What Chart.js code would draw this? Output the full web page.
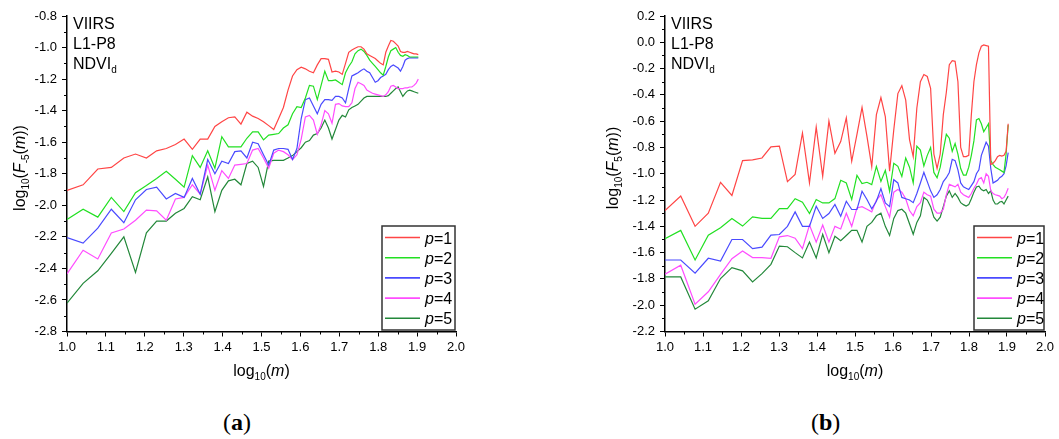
<!DOCTYPE html>
<html>
<head>
<meta charset="utf-8">
<script src="https://cdn.jsdelivr.net/npm/chart.js@4.4.1/dist/chart.umd.min.js"></script>
<style>
  body { margin: 0; background: #fff; width: 1059px; height: 439px; overflow: hidden; position: relative; }
  canvas { position: absolute; top: 0; }
  #chart-a { left: 0; }
  #chart-b { left: 530px; }
  .caption { position: absolute; top: 408px; font-family: "Liberation Serif", "Times New Roman", serif; font-size: 24px; line-height: 28px; color: #000; }
</style>
</head>
<body>
<canvas id="chart-a" width="530" height="395"></canvas>
<canvas id="chart-b" width="529" height="395"></canvas>
<div class="caption" style="left:223px">(<b>a</b>)</div>
<div class="caption" style="left:811px">(<b>b</b>)</div>
<script>
// window sizes m; the x axis is log10(m)
const windowSizes = [
  10, 11, 12, 13, 14, 15, 16, 17, 18, 19, 20, 21, 22, 23, 24, 25, 26, 27, 28, 29,
  30, 31, 32, 33, 34, 35, 36, 37, 38, 39, 40, 41, 42, 43, 44, 45, 46, 47, 48, 49,
  50, 51, 52, 53, 54, 55, 56, 57, 58, 59, 60, 61, 62, 63, 64, 65, 66, 67, 68, 69,
  70, 71, 72, 73, 74, 75, 76, 77, 78, 79, 80
];

const seriesLabels = ["1", "2", "3", "4", "5"];
const seriesColors = ["#ff4545", "#22e022", "#4a4aff", "#ff4cff", "#23883a"];

const xRange = [1.0, 2.0];
const yRangeA = [-2.8, -0.8];
const yRangeB = [-2.2, 0.2];

// log10(F_-5(m)), q = -5
const fMinus5P1 = [
  -1.905, -1.87, -1.77, -1.76, -1.70, -1.675, -1.70, -1.655, -1.64, -1.615, -1.58,
  -1.645, -1.58, -1.58, -1.50, -1.47, -1.445, -1.44, -1.485, -1.41, -1.435,
  -1.45, -1.47, -1.495, -1.52, -1.45, -1.38, -1.27, -1.18, -1.14, -1.125,
  -1.135, -1.15, -1.16, -1.11, -1.07, -1.07, -1.075, -1.155, -1.15, -1.155,
  -1.17, -1.10, -1.03, -1.015, -1.005, -0.995, -0.995, -1.01, -1.04, -1.05,
  -1.06, -1.07, -1.085, -1.10, -1.11, -1.03, -0.99, -0.955, -0.96, -0.975,
  -0.99, -1.025, -1.03, -1.03, -1.025, -1.03, -1.035, -1.04, -1.04, -1.045
];
const fMinus5P2 = [
  -2.09, -2.025, -2.075, -1.95, -2.04, -1.92, -1.875, -1.83, -1.785, -1.835, -1.885,
  -1.685, -1.76, -1.655, -1.765, -1.565, -1.63, -1.63, -1.63, -1.575, -1.535,
  -1.535, -1.585, -1.555, -1.55, -1.545, -1.51, -1.49, -1.42, -1.375, -1.38,
  -1.32, -1.24, -1.245, -1.33, -1.24, -1.15, -1.21, -1.21, -1.205, -1.22,
  -1.235, -1.16, -1.12, -1.09, -1.04, -1.02, -1.01, -1.025, -1.05, -1.08,
  -1.10, -1.12, -1.14, -1.16, -1.175, -1.12, -1.06, -1.02, -1.01, -1.00,
  -1.03, -1.05, -1.055, -1.045, -1.05, -1.06, -1.06, -1.06, -1.06, -1.06
];
const fMinus5P3 = [
  -2.205, -2.24, -2.145, -2.025, -2.11, -1.965, -1.90, -1.885, -1.96, -1.925, -1.95,
  -1.83, -1.93, -1.71, -1.80, -1.72, -1.735, -1.66, -1.655, -1.70, -1.60,
  -1.61, -1.68, -1.745, -1.65, -1.64, -1.64, -1.645, -1.71, -1.64, -1.45,
  -1.33, -1.32, -1.37, -1.42, -1.36, -1.33, -1.33, -1.335, -1.31, -1.31,
  -1.32, -1.35, -1.26, -1.18, -1.17, -1.16, -1.145, -1.135, -1.15, -1.16,
  -1.19, -1.22, -1.21, -1.19, -1.18, -1.17, -1.14, -1.12, -1.11, -1.12,
  -1.13, -1.15, -1.12, -1.08, -1.07, -1.065, -1.065, -1.065, -1.065, -1.065
];
const fMinus5P4 = [
  -2.435, -2.285, -2.34, -2.175, -2.15, -2.095, -2.03, -2.035, -2.095, -1.96, -1.95,
  -1.87, -1.93, -1.745, -1.905, -1.78, -1.83, -1.745, -1.74, -1.735, -1.65,
  -1.64, -1.70, -1.765, -1.67, -1.65, -1.66, -1.68, -1.71, -1.68, -1.58,
  -1.44, -1.43, -1.46, -1.55, -1.49, -1.40, -1.42, -1.48, -1.36, -1.355,
  -1.37, -1.375, -1.375, -1.35, -1.26, -1.22, -1.23, -1.24, -1.27, -1.28,
  -1.29, -1.295, -1.30, -1.305, -1.31, -1.30, -1.28, -1.245, -1.24, -1.25,
  -1.26, -1.26, -1.26, -1.255, -1.255, -1.25, -1.25, -1.24, -1.225, -1.20
];
const fMinus5P5 = [
  -2.62, -2.495, -2.415, -2.305, -2.20, -2.425, -2.175, -2.10, -2.10, -2.05, -2.02,
  -1.945, -1.965, -1.82, -2.04, -1.905, -1.845, -1.835, -1.87, -1.735, -1.72,
  -1.76, -1.88, -1.72, -1.715, -1.715, -1.715, -1.70, -1.685, -1.66, -1.635,
  -1.60, -1.59, -1.555, -1.545, -1.51, -1.46, -1.51, -1.58, -1.52, -1.46,
  -1.43, -1.44, -1.395, -1.38, -1.37, -1.36, -1.34, -1.32, -1.31, -1.31,
  -1.31, -1.31, -1.31, -1.31, -1.31, -1.31, -1.305, -1.29, -1.275, -1.26,
  -1.25, -1.28, -1.31, -1.29, -1.275, -1.27, -1.275, -1.28, -1.285, -1.29
];

// log10(F_5(m)), q = 5
const f5P1 = [
  -1.28, -1.17, -1.40, -1.30, -1.065, -1.165, -0.90, -0.895, -0.88, -0.795, -0.79,
  -1.06, -1.005, -0.69, -1.07, -0.645, -1.02, -0.60, -0.845, -0.755, -0.575,
  -0.905, -0.70, -0.495, -0.715, -0.945, -0.55, -0.42, -0.565, -0.98, -0.665,
  -0.39, -0.33, -0.44, -0.74, -0.87, -0.50, -0.30, -0.245, -0.26, -0.35,
  -0.85, -0.96, -0.85, -0.55, -0.38, -0.17, -0.14, -0.145, -0.30, -0.80,
  -0.87, -0.87, -0.86, -0.55, -0.30, -0.17, -0.08, -0.03, -0.02, -0.025,
  -0.03, -0.93, -0.92, -0.90, -0.87, -0.86, -0.865, -0.86, -0.83, -0.62
];
const f5P2 = [
  -1.494, -1.431, -1.656, -1.467, -1.411, -1.34, -1.398, -1.328, -1.34, -1.34, -1.265,
  -1.265, -1.19, -1.217, -1.303, -1.196, -1.222, -1.222, -1.189, -1.05, -1.07,
  -1.196, -1.012, -1.075, -1.065, -1.083, -0.944, -1.058, -0.974, -1.133, -0.92,
  -0.944, -1.02, -0.88, -0.95, -1.07, -0.79, -0.82, -0.94, -0.86, -0.80,
  -0.99, -1.03, -0.95, -0.82, -0.70, -0.73, -0.83, -0.77, -0.85, -0.96,
  -1.01, -1.01, -0.95, -0.86, -0.75, -0.59, -0.58, -0.62, -0.68, -0.65,
  -0.62, -0.90, -0.93, -0.95, -0.96, -0.97, -0.98, -0.99, -0.85, -0.63
];
const f5P3 = [
  -1.656, -1.656, -1.757, -1.643, -1.664, -1.50, -1.50, -1.57, -1.558, -1.467, -1.462,
  -1.40, -1.29, -1.40, -1.40, -1.247, -1.34, -1.303, -1.234, -1.323, -1.209,
  -1.272, -1.272, -1.133, -1.196, -1.267, -1.209, -1.113, -1.222, -1.25, -1.045,
  -1.07, -1.18, -1.19, -1.20, -1.22, -1.15, -1.07, -0.99, -1.06, -1.13,
  -1.18, -1.16, -1.12, -1.06, -1.03, -0.99, -0.89, -0.90, -0.97, -1.07,
  -1.10, -1.11, -1.12, -1.09, -1.06, -1.00, -0.97, -0.86, -0.81, -0.76,
  -0.79, -0.96, -1.07, -1.06, -1.05, -1.03, -1.02, -1.00, -0.94, -0.84
];
const f5P4 = [
  -1.765, -1.696, -1.992, -1.898, -1.765, -1.646, -1.588, -1.638, -1.638, -1.643, -1.48,
  -1.47, -1.49, -1.57, -1.39, -1.52, -1.39, -1.52, -1.40, -1.42, -1.30,
  -1.40, -1.26, -1.25, -1.27, -1.29, -1.20, -1.16, -1.25, -1.33, -1.14,
  -1.12, -1.14, -1.19, -1.28, -1.32, -1.25, -1.22, -1.14, -1.16, -1.17,
  -1.27, -1.30, -1.30, -1.27, -1.16, -1.08, -1.09, -1.10, -1.08, -1.14,
  -1.16, -1.17, -1.18, -1.15, -1.11, -1.08, -1.04, -1.03, -1.07, -1.00,
  -1.02, -1.13, -1.15, -1.16, -1.165, -1.17, -1.19, -1.18, -1.15, -1.11
];
const f5P5 = [
  -1.785, -1.785, -2.03, -1.967, -1.797, -1.714, -1.739, -1.823, -1.76, -1.689, -1.55,
  -1.555, -1.60, -1.64, -1.52, -1.64, -1.46, -1.60, -1.475, -1.51, -1.47,
  -1.43, -1.43, -1.52, -1.40, -1.37, -1.32, -1.30, -1.40, -1.47, -1.34,
  -1.28, -1.27, -1.30, -1.38, -1.46, -1.37, -1.32, -1.18, -1.20, -1.25,
  -1.33, -1.36, -1.33, -1.25, -1.17, -1.13, -1.18, -1.15, -1.18, -1.22,
  -1.235, -1.245, -1.235, -1.19, -1.14, -1.10, -1.095, -1.12, -1.13, -1.12,
  -1.15, -1.13, -1.20, -1.23, -1.23, -1.215, -1.21, -1.23, -1.20, -1.17
];

const FONT = '"Liberation Sans", Arial, sans-serif';

// draws a run of text pieces: [text, style] with style "", "i" (italic) or "sub"
function drawRichText(ctx, parts, x, y, align) {
  const fontFor = (s) => s === "sub" ? `10px ${FONT}` : s === "i" ? `italic 16px ${FONT}` : `16px ${FONT}`;
  let width = 0;
  parts.forEach(([t, s]) => { ctx.font = fontFor(s); width += ctx.measureText(t).width; });
  let cx = align === "center" ? x - width / 2 : x;
  ctx.textAlign = "left";
  ctx.textBaseline = "alphabetic";
  ctx.fillStyle = "#000";
  parts.forEach(([t, s]) => {
    ctx.font = fontFor(s);
    ctx.fillText(t, cx, s === "sub" ? y + 4 : y);
    cx += ctx.measureText(t).width;
  });
}

const minorTicks = {
  id: "minorTicks",
  afterDraw(chart) {
    const { ctx } = chart;
    const { x, y } = chart.scales;
    ctx.save();
    ctx.strokeStyle = "#000";
    ctx.lineWidth = 1;
    ctx.beginPath();
    for (let i = 0; i < x.ticks.length - 1; i++) {
      const px = Math.round(x.getPixelForValue((x.ticks[i].value + x.ticks[i + 1].value) / 2)) + 0.5;
      ctx.moveTo(px, x.top);
      ctx.lineTo(px, x.top + 3);
    }
    for (let i = 0; i < y.ticks.length - 1; i++) {
      const py = Math.round(y.getPixelForValue((y.ticks[i].value + y.ticks[i + 1].value) / 2)) + 0.5;
      ctx.moveTo(y.right - 3, py);
      ctx.lineTo(y.right, py);
    }
    ctx.stroke();
    ctx.restore();
  }
};

// axis titles, the label block in the corner and the boxed legend
function panelDecor(yTitle, yTitleOffset, legendWidth) {
  return {
    id: "panelDecor",
    afterDraw(chart) {
      const { ctx, chartArea: area } = chart;
      ctx.save();

      drawRichText(ctx, [["VIIRS", ""]], area.left + 6, 29);
      drawRichText(ctx, [["L1-P8", ""]], area.left + 6, 49);
      drawRichText(ctx, [["NDVI", ""], ["d", "sub"]], area.left + 6, 69);

      drawRichText(ctx, [["log", ""], ["10", "sub"], ["(", ""], ["m", "i"], [")", ""]],
        (area.left + area.right) / 2, 376, "center");

      ctx.save();
      ctx.translate(area.left - yTitleOffset, 168);
      ctx.rotate(-Math.PI / 2);
      drawRichText(ctx, yTitle, 0, 6, "center");
      ctx.restore();

      const boxRight = area.right - 1;
      const boxLeft = boxRight - legendWidth;
      const boxTop = 226;
      const boxBottom = area.bottom - 1.5;
      ctx.fillStyle = "#fff";
      ctx.fillRect(boxLeft, boxTop, legendWidth, boxBottom - boxTop);
      ctx.strokeStyle = "#333";
      ctx.lineWidth = 1.5;
      ctx.strokeRect(boxLeft, boxTop, legendWidth, boxBottom - boxTop);

      chart.data.datasets.forEach((ds, i) => {
        const rowY = 237.5 + i * 20.2;
        ctx.strokeStyle = ds.borderColor;
        ctx.lineWidth = 1.6;
        ctx.beginPath();
        ctx.moveTo(boxLeft + 3, rowY);
        ctx.lineTo(boxLeft + 38, rowY);
        ctx.stroke();
        drawRichText(ctx, [["p", "i"], ["=" + seriesLabels[i], ""]], boxLeft + 43, rowY + 6);
      });

      ctx.restore();
    }
  };
}

const toPoints = (values) => windowSizes.map((m, i) => ({ x: Math.log10(m), y: values[i] }));

function createPanel(canvasId, series, yRange, layout, decor) {
  const ctx = document.getElementById(canvasId).getContext("2d");
  const tickFont = { family: FONT, size: 13 };

  new Chart(ctx, {
    type: "line",
    data: {
      datasets: series.map((values, i) => ({
        label: "p=" + seriesLabels[i],
        data: toPoints(values),
        borderColor: seriesColors[i],
        borderWidth: 1.2,
        pointRadius: 0,
        fill: false,
        tension: 0,
      })),
    },
    options: {
      responsive: false,
      animation: false,
      events: [],
      layout: { padding: { top: 16, left: 0, right: layout.right, bottom: 0 } },
      plugins: { legend: { display: false }, tooltip: { enabled: false } },
      scales: {
        x: {
          type: "linear",
          min: xRange[0],
          max: xRange[1],
          ticks: {
            stepSize: 0.1, autoSkip: false, maxRotation: 0, padding: 3,
            color: "#000", font: tickFont,
            callback: (v) => v.toFixed(1),
          },
          grid: { drawOnChartArea: false, drawTicks: true, tickLength: 5, tickColor: "#000", tickWidth: 1 },
          border: { display: true, color: "#000", width: 1.5 },
          afterFit: (scale) => { scale.height = 395 - 331.5; },
        },
        y: {
          type: "linear",
          min: yRange[0],
          max: yRange[1],
          ticks: {
            stepSize: 0.2, autoSkip: false, padding: 5,
            color: "#000", font: tickFont,
            callback: (v) => (Math.abs(v) < 1e-9 ? "0.0" : v.toFixed(1)),
          },
          grid: { drawOnChartArea: false, drawTicks: true, tickLength: 5, tickColor: "#000", tickWidth: 1 },
          border: { display: true, color: "#000", width: 1.5 },
          afterFit: (scale) => { scale.width = layout.left; },
        },
      },
    },
    plugins: [minorTicks, decor],
  });
}

createPanel(
  "chart-a",
  [fMinus5P1, fMinus5P2, fMinus5P3, fMinus5P4, fMinus5P5],
  yRangeA,
  { left: 67, right: 74 },
  panelDecor([["log", ""], ["10", "sub"], ["(", ""], ["F", "i"], ["-5", "sub"], ["(", ""], ["m", "i"], ["))", ""]], 48, 73)
);

createPanel(
  "chart-b",
  [f5P1, f5P2, f5P3, f5P4, f5P5],
  yRangeB,
  { left: 135, right: 14 },
  panelDecor([["log", ""], ["10", "sub"], ["(", ""], ["F", "i"], ["5", "sub"], ["(", ""], ["m", "i"], ["))", ""]], 53, 70)
);
</script>
</body>
</html>
